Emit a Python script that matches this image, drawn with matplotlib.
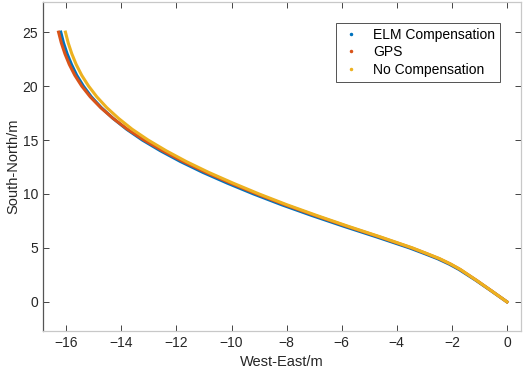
import matplotlib
matplotlib.use("Agg")
import matplotlib.pyplot as plt
from matplotlib.lines import Line2D

plt.rcParams['font.family'] = ['Liberation Sans', 'DejaVu Sans']

# South-North samples shared by all three tracks
north = [25, 24, 23, 22, 21, 20, 19, 18, 17, 16, 15, 14, 13, 12, 11, 10, 9, 8, 7, 6, 5, 4.5, 4, 3.5, 3, 2, 1, 0]

# West-East positions
gps_east = [-16.28, -16.18, -16.05, -15.89, -15.69, -15.44, -15.13, -14.75, -14.30, -13.78, -13.18, -12.50, -11.75,
            -10.93, -10.03, -9.08, -8.06, -6.96, -5.81, -4.61, -3.46, -2.95, -2.46, -2.05, -1.70, -1.11, -0.55, 0.0]
elm_east = [-16.20, -16.10, -15.97, -15.81, -15.62, -15.38, -15.09, -14.73, -14.30, -13.81, -13.24, -12.58, -11.85,
            -11.04, -10.15, -9.20, -8.18, -7.08, -5.92, -4.71, -3.54, -3.02, -2.52, -2.10, -1.74, -1.13, -0.56, 0.0]
noc_east = [-16.03, -15.93, -15.80, -15.64, -15.44, -15.19, -14.89, -14.53, -14.10, -13.61, -13.03, -12.37, -11.64,
            -10.83, -9.94, -9.00, -7.99, -6.90, -5.76, -4.57, -3.43, -2.93, -2.44, -2.04, -1.69, -1.11, -0.55, 0.0]

labels = ['ELM Compensation', 'GPS', 'No Compensation']
colors = ['#0072BD', '#D95319', '#EDB120']

fig = plt.figure(figsize=(5.26, 3.77), dpi=100)
ax = fig.add_axes([0.082, 0.122, 0.908, 0.873])

ax.plot(elm_east, north, color=colors[0], lw=2.2)
ax.plot(gps_east, north, color=colors[1], lw=2.2)
ax.plot(noc_east, north, color=colors[2], lw=2.2)

ax.set_xlim(-16.84, 0.5)
ax.set_ylim(-2.7, 27.8)
ax.set_xticks(range(-16, 1, 2))
ax.set_yticks(range(0, 26, 5))
ax.tick_params(direction='in', top=True, right=True, length=4, labelsize=10,
               colors='#262626', width=0.6)
for s in ['top', 'right', 'bottom']:
    ax.spines[s].set_color('#c8c8c8')
ax.spines['left'].set_color('#555555')
for s in ax.spines.values():
    s.set_linewidth(0.9)

ax.set_xlabel('West-East/m', fontsize=10.5, color='#262626', labelpad=4)
ax.set_ylabel('South-North/m', fontsize=10.5, color='#262626', labelpad=2)

handles = [Line2D([], [], color=c, marker='.', linestyle='none', markersize=3) for c in colors]
leg = ax.legend(handles, labels, loc='upper right', bbox_to_anchor=(0.956, 0.936),
                borderaxespad=0, fontsize=10, frameon=True, fancybox=False,
                handlelength=1.5, handletextpad=0.8, borderpad=0.35, labelspacing=0.25)
leg.get_frame().set_edgecolor('#262626')
leg.get_frame().set_linewidth(0.7)

fig.savefig('out.png', dpi=100)
